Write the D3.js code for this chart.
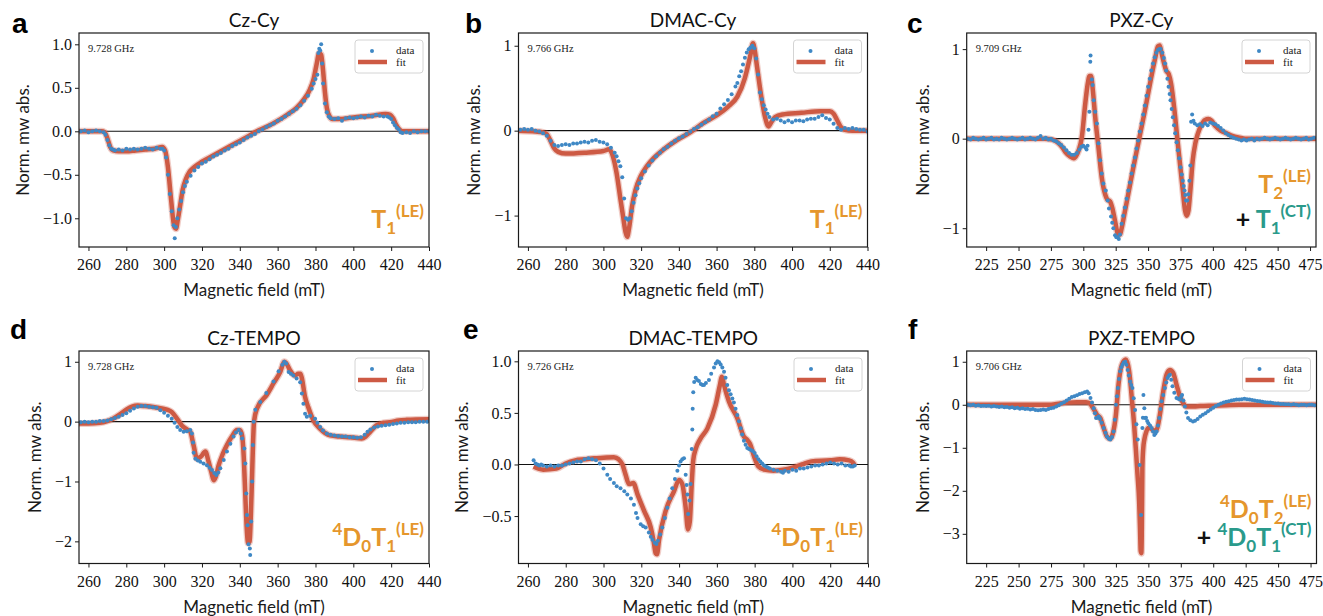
<!DOCTYPE html>
<html lang="en">
<head>
<meta charset="UTF-8">
<title>EPR spectra with fits</title>
<style>
  body { margin: 0; background: #fff; }
  svg { display: block; }
  .tick text { font-family: "Liberation Serif", serif; font-size: 16px; fill: #111; }
  .domain, .tick line { stroke: #1a1a1a; }
  .title { font-family: Lato, sans-serif; font-size: 19px; fill: #111; }
  .axlabel { font-family: Lato, sans-serif; font-size: 17px; fill: #1a1a1a; }
  .letter { font-family: "Liberation Sans", Arial, sans-serif; font-weight: bold; font-size: 28px; fill: #000; }
  .freq { font-family: "Liberation Serif", serif; font-size: 10.5px; fill: #222; }
  .leg { font-family: "Liberation Serif", serif; font-size: 11px; fill: #222; }
  .state { font-family: Lato, sans-serif; font-weight: bold; }
</style>
</head>
<body>
<svg id="fig" width="1323" height="616"></svg>
<script src="https://cdn.jsdelivr.net/npm/d3@7"></script>
<script>
// ---- [field (mT), normalised mw absorption] ----
const czCyData = [[256,0.0],[258,0.01],[260,-0.01],[262,0.0],[264,0.01],[266,0.0],[268,-0.01],[269,-0.04],[270,-0.1],[271,-0.16],[272,-0.2],[273,-0.21],[274,-0.22],[276,-0.21],[278,-0.22],[280,-0.2],[282,-0.21],[284,-0.2],[286,-0.21],[288,-0.2],[290,-0.19],[292,-0.2],[294,-0.21],[296,-0.19],[298,-0.2],[299,-0.2],[300,-0.22],[301,-0.3],[302,-0.5],[303,-0.72],[304,-0.92],[305,-1.08],[305.6,-1.23],[306.2,-1.1],[307,-1.0],[308,-0.9],[309,-0.8],[310,-0.7],[311,-0.63],[312,-0.58],[314,-0.51],[316,-0.45],[318,-0.41],[320,-0.37],[322,-0.35],[324,-0.32],[326,-0.29],[328,-0.27],[330,-0.25],[332,-0.22],[334,-0.2],[336,-0.17],[338,-0.15],[340,-0.13],[342,-0.1],[344,-0.07],[346,-0.05],[348,-0.03],[350,0.0],[352,0.02],[354,0.05],[356,0.07],[358,0.09],[360,0.12],[362,0.14],[364,0.17],[366,0.2],[368,0.23],[370,0.26],[372,0.3],[374,0.35],[376,0.41],[378,0.49],[379,0.55],[380,0.6],[381,0.65],[381.5,0.9],[382,0.95],[382.5,0.93],[383,1.0],[383.5,0.78],[384,0.55],[385,0.32],[386,0.22],[387,0.17],[388,0.15],[390,0.14],[392,0.15],[394,0.12],[396,0.15],[398,0.16],[400,0.15],[402,0.16],[404,0.17],[406,0.16],[408,0.18],[410,0.17],[412,0.19],[414,0.18],[416,0.17],[418,0.17],[419,0.16],[420,0.14],[421,0.1],[422,0.07],[423,0.04],[424,0.02],[425,-0.01],[426,-0.02],[428,-0.01],[430,-0.02],[432,0.0],[434,-0.01],[436,0.0],[438,0.0],[440,0.0]];
const czCyFit = [[255,0],[262,0],[267,0],[268.5,-0.01],[270,-0.08],[271.5,-0.18],[273,-0.22],[276,-0.23],[280,-0.23],[285,-0.22],[290,-0.21],[295,-0.2],[299,-0.18],[300.5,-0.22],[302,-0.41],[303.7,-0.79],[305.4,-1.1],[306.3,-1.12],[307.2,-1.02],[308.5,-0.85],[309.8,-0.67],[311.5,-0.55],[313.3,-0.47],[316,-0.41],[320,-0.35],[325,-0.29],[330,-0.23],[335,-0.17],[340,-0.11],[345,-0.05],[349,0],[355,0.06],[360,0.12],[365,0.19],[370,0.27],[374,0.37],[377,0.48],[379,0.6],[380.5,0.76],[382,0.9],[383,0.88],[384,0.7],[385,0.45],[386,0.27],[387.5,0.17],[389,0.14],[392,0.14],[400,0.16],[410,0.18],[417,0.2],[419.5,0.19],[421,0.15],[422.5,0.08],[424,0.03],[426,0],[440,0]];

const dmacCyData = [[256,0.01],[258,0.02],[260,0.01],[262,0.02],[264,0.0],[266,-0.01],[268,-0.03],[270,-0.06],[272,-0.12],[274,-0.17],[276,-0.18],[278,-0.17],[280,-0.16],[282,-0.17],[284,-0.15],[286,-0.15],[288,-0.14],[290,-0.13],[292,-0.14],[294,-0.12],[296,-0.11],[298,-0.13],[300,-0.14],[302,-0.16],[304,-0.2],[306,-0.26],[307,-0.3],[308,-0.36],[309,-0.42],[310,-0.55],[311,-0.8],[312,-1.03],[313,-1.05],[314,-1.03],[315,-0.95],[316,-0.85],[317,-0.76],[318,-0.68],[319,-0.62],[320,-0.56],[322,-0.48],[324,-0.41],[326,-0.35],[328,-0.3],[330,-0.26],[332,-0.22],[334,-0.19],[336,-0.15],[338,-0.12],[340,-0.09],[342,-0.07],[344,-0.04],[346,-0.01],[348,0.02],[350,0.04],[352,0.07],[354,0.1],[356,0.13],[358,0.17],[360,0.2],[362,0.26],[364,0.31],[366,0.36],[368,0.43],[370,0.52],[371,0.56],[372,0.64],[373,0.7],[374,0.78],[375,0.86],[376,0.92],[377,0.96],[378,0.98],[379,1.0],[380,0.97],[381,0.85],[382,0.66],[383,0.45],[384,0.37],[385,0.3],[386,0.25],[387,0.2],[388,0.16],[390,0.13],[392,0.14],[394,0.12],[396,0.1],[398,0.12],[400,0.1],[402,0.12],[404,0.12],[406,0.11],[408,0.13],[410,0.14],[412,0.14],[414,0.16],[416,0.18],[418,0.15],[420,0.13],[422,0.08],[424,0.03],[426,0.01],[428,0.03],[430,0.02],[432,0.03],[434,0.02],[436,0.01],[438,0.01],[440,-0.01]];
const dmacCyFit = [[255,0],[264,-0.01],[268,-0.02],[270,-0.04],[272,-0.12],[274,-0.21],[276,-0.25],[280,-0.27],[290,-0.26],[300,-0.24],[303,-0.22],[305,-0.3],[307,-0.5],[309,-0.8],[310.5,-1.02],[311.8,-1.2],[312.6,-1.25],[313.6,-1.15],[315.2,-0.89],[317,-0.7],[319.7,-0.54],[323,-0.42],[326.8,-0.32],[332,-0.22],[339,-0.11],[346,-0.02],[353,0.09],[360,0.18],[366,0.28],[371,0.4],[375,0.62],[377.8,0.875],[379.3,1.03],[380.2,0.95],[381.4,0.76],[384,0.36],[385.8,0.15],[387.5,0.05],[389,0.1],[391,0.16],[395,0.19],[405,0.21],[415,0.23],[420,0.23],[422,0.2],[424,0.12],[426,0.04],[428,0.01],[432,0],[440,0]];

const pxzCyData = [[211,0.0],[213,-0.01],[215,0.01],[217,0.0],[219,-0.01],[221,0.0],[223,0.01],[225,-0.01],[227,0.0],[229,0.01],[231,-0.01],[233,0.0],[235,-0.01],[237,0.01],[239,0.0],[241,-0.01],[243,0.0],[245,0.01],[247,0.0],[249,-0.01],[251,0.0],[253,0.01],[255,-0.01],[257,0.0],[259,0.01],[261,0.0],[263,-0.01],[265,0.01],[267,0.03],[269,0.0],[271,0.01],[273,-0.01],[275,0.0],[277,-0.02],[279,-0.03],[281,-0.05],[283,-0.07],[285,-0.1],[287,-0.13],[289,-0.16],[291,-0.18],[293,-0.18],[295,-0.16],[297,-0.12],[298.5,-0.09],[300,-0.08],[301.5,-0.1],[302.5,-0.12],[303.3,-0.08],[304,0.1],[304.7,0.3],[305.4,0.86],[305.6,0.93],[306.6,0.66],[307.2,0.6],[308,0.43],[309.2,0.3],[310.5,0.17],[311.7,-0.05],[313,-0.24],[314.2,-0.39],[315.5,-0.5],[317.3,-0.58],[318.8,-0.69],[319.8,-0.78],[321.4,-0.87],[322.3,-0.94],[323.2,-1.0],[324.5,-1.08],[325.5,-1.1],[326.5,-1.1],[327.4,-1.12],[328.3,-1.07],[329.6,-0.95],[330.8,-0.86],[332.1,-0.77],[333.4,-0.67],[334.7,-0.58],[336,-0.49],[337.2,-0.39],[338.5,-0.3],[339.8,-0.21],[341,-0.11],[342.3,-0.02],[343.6,0.08],[344.9,0.17],[346.2,0.27],[347.5,0.37],[348.8,0.48],[350,0.58],[351.3,0.67],[352.5,0.76],[353.8,0.84],[355.1,0.91],[356.4,0.96],[357.6,0.99],[358.7,1.0],[359.7,1.0],[361,0.96],[362.2,0.9],[363.1,0.84],[364,0.76],[364.9,0.67],[365.8,0.58],[366.6,0.5],[367.3,0.43],[368.2,0.33],[369.1,0.24],[370,0.15],[370.9,0.06],[372,-0.04],[373,-0.13],[374,-0.22],[375,-0.32],[376,-0.4],[376.8,-0.47],[377.5,-0.53],[378.1,-0.58],[378.7,-0.63],[379.3,-0.69],[380.2,-0.69],[381,-0.62],[381.9,-0.47],[382.6,-0.3],[383.2,0.19],[384,0.27],[385,0.2],[386,0.17],[388,0.15],[390,0.16],[392,0.14],[394,0.17],[396,0.15],[398,0.18],[400,0.17],[402,0.16],[404,0.14],[406,0.12],[408,0.09],[410,0.06],[412,0.04],[414,0.02],[416,0.01],[418,0.0],[420,-0.01],[422,-0.02],[424,-0.01],[426,-0.02],[428,-0.01],[430,0.0],[432,-0.02],[434,0.0],[436,-0.01],[438,0.0],[440,0.01],[442,0.0],[444,-0.01],[446,0.0],[448,0.01],[450,0.0],[452,-0.01],[454,0.0],[456,0.01],[458,0.0],[460,-0.01],[462,0.0],[464,0.01],[466,0.0],[468,-0.01],[470,0.0],[472,0.01],[474,-0.01],[476,0.0],[478,0.01]];
const pxzCyFit = [[210,0],[250,0],[270,0],[276,-0.01],[280,-0.04],[284,-0.1],[286.2,-0.15],[290,-0.2],[292.6,-0.22],[295,-0.18],[296.4,-0.13],[298.9,0.02],[301.5,0.39],[303.5,0.62],[304.8,0.7],[306,0.7],[307.3,0.55],[309.2,0.24],[311.7,-0.1],[314.2,-0.43],[316.8,-0.62],[318.5,-0.68],[320.6,-0.7],[322.5,-0.78],[324.5,-0.92],[327,-1.07],[328.3,-1.07],[329.6,-1.0],[332,-0.82],[334.7,-0.62],[338.5,-0.33],[342.3,-0.06],[347.5,0.31],[352.5,0.69],[355.5,0.9],[357.6,1.03],[359,1.04],[360.2,0.97],[362,0.86],[364,0.76],[366,0.72],[367.8,0.61],[370.4,0.31],[373,-0.06],[376.8,-0.58],[378.5,-0.8],[379.8,-0.86],[381.2,-0.8],[382.5,-0.6],[384.4,-0.25],[386.5,-0.05],[388.3,0.05],[391,0.15],[394,0.21],[396.5,0.22],[399,0.2],[402,0.14],[406,0.09],[410.6,0.06],[415,0.03],[420.8,0.01],[425,0],[480,0]];

const czTempoData = [[256,-0.01],[258,0.0],[260,-0.01],[262,0.0],[264,0.0],[266,0.01],[268,0.01],[270,0.02],[272,0.04],[274,0.06],[276,0.08],[278,0.11],[280,0.14],[282,0.18],[284,0.22],[286,0.25],[288,0.26],[290,0.26],[292,0.25],[294,0.24],[296,0.23],[298,0.19],[300,0.15],[302,0.1],[304,0.05],[305.5,-0.02],[307,-0.09],[308.5,-0.14],[310.3,-0.17],[312,-0.16],[313.8,-0.14],[314.7,-0.2],[315.3,-0.35],[315.6,-0.52],[316.5,-0.62],[317.8,-0.65],[319.1,-0.67],[320.8,-0.7],[322.6,-0.73],[324,-0.77],[325.3,-0.81],[326.5,-0.86],[327.6,-0.89],[328.6,-0.85],[329.7,-0.78],[331.5,-0.64],[333.2,-0.5],[335,-0.37],[336.7,-0.25],[338,-0.18],[339.4,-0.14],[340.5,-0.2],[341.2,-0.28],[342.4,-0.45],[342.9,-0.7],[343.4,-1.2],[343.8,-1.56],[344.1,-1.73],[344.6,-2.05],[345.3,-2.12],[345.5,-2.23],[346,-1.67],[346.5,-1.0],[346.9,-0.39],[347.3,0.0],[348.2,0.2],[350.8,0.33],[354,0.48],[357.8,0.67],[360.5,0.84],[362.5,0.95],[363.5,1.0],[364.5,0.97],[365.8,0.83],[367,0.8],[368.3,0.77],[370,0.72],[371.9,0.66],[372.8,0.47],[373.6,0.3],[374.5,0.13],[375.4,0.08],[377.2,0.1],[379.8,0.05],[381,-0.02],[382.5,-0.09],[384,-0.15],[386,-0.2],[388,-0.22],[390,-0.23],[392,-0.24],[394,-0.25],[396,-0.25],[398,-0.26],[400,-0.26],[402,-0.27],[404,-0.26],[406,-0.22],[407.5,-0.17],[409,-0.13],[411,-0.1],[413,-0.08],[415,-0.07],[417,-0.06],[419,-0.05],[421,-0.04],[423,-0.03],[425,-0.02],[427,-0.02],[429,-0.01],[431,-0.01],[433,-0.01],[435,0.0],[437,0.0],[439,0.0]];
const czTempoFit = [[255,-0.03],[260,-0.03],[266,-0.02],[270,0.01],[273,0.05],[277,0.13],[280,0.2],[283,0.25],[286,0.27],[290,0.26],[295,0.24],[301.5,0.2],[304,0.16],[306.8,0.05],[309.5,-0.07],[312,-0.13],[313.8,-0.17],[315.6,-0.4],[317.4,-0.62],[319.5,-0.58],[321.8,-0.5],[323.5,-0.67],[325,-0.85],[326.2,-0.98],[327.3,-0.92],[328.8,-0.73],[331,-0.54],[333.2,-0.39],[336,-0.24],[338.5,-0.14],[340,-0.14],[341.2,-0.23],[342.1,-0.6],[342.9,-1.23],[343.6,-1.75],[344.4,-2.03],[345.2,-2.0],[345.8,-1.6],[346.4,-1.0],[347,-0.35],[347.5,0.0],[349.1,0.22],[354.3,0.45],[358,0.65],[361.4,0.83],[363.5,1.0],[364.5,0.98],[366.5,0.86],[369.2,0.77],[370.9,0.8],[372,0.8],[372.7,0.74],[374.5,0.41],[376.2,0.24],[378.9,0.02],[382.5,-0.12],[387.7,-0.23],[393,-0.25],[398.3,-0.26],[404.5,-0.28],[406.5,-0.25],[408.9,-0.17],[412.4,-0.06],[416,-0.02],[419.4,-0.01],[424,0.02],[428.2,0.03],[440,0.04]];

const dmacTempoData = [[263,0.04],[264,0.01],[265,0.0],[266,-0.01],[267,0.0],[268,-0.01],[270,-0.02],[272,-0.01],[274,-0.02],[276,-0.01],[278,-0.01],[280,0.0],[282,0.01],[284,0.02],[286,0.03],[288,0.03],[290,0.05],[292,0.06],[294,0.05],[296,0.04],[298,0.01],[300,-0.04],[302,-0.1],[303.5,-0.14],[305.5,-0.18],[307,-0.21],[309,-0.23],[311,-0.26],[312.6,-0.29],[314.5,-0.33],[316.1,-0.39],[317.2,-0.47],[318,-0.52],[319.7,-0.58],[321,-0.6],[322.3,-0.61],[324,-0.66],[325,-0.7],[325.9,-0.73],[327.1,-0.76],[328,-0.77],[328.8,-0.74],[330,-0.68],[331.1,-0.61],[332.5,-0.52],[333.8,-0.42],[335,-0.33],[336.4,-0.23],[337.8,-0.14],[339.1,-0.06],[340,-0.01],[340.8,0.03],[341.7,0.05],[342.6,0.06],[343.5,-0.1],[344,-0.2],[344.4,-0.29],[344.8,-0.48],[345.5,-0.35],[346.1,-0.19],[346.7,0.15],[347,0.34],[347.2,0.54],[347.5,0.7],[348,0.8],[348.8,0.84],[349.6,0.82],[350.5,0.81],[351.5,0.78],[352.4,0.77],[353.2,0.77],[354.2,0.79],[355.8,0.82],[357,0.88],[358.5,0.94],[359.4,0.98],[360.3,1.0],[361.2,0.99],[362,0.97],[362.9,0.94],[363.8,0.9],[364.6,0.84],[365.5,0.77],[366.4,0.72],[367.3,0.68],[368.2,0.64],[369,0.6],[369.9,0.54],[370.8,0.48],[371.7,0.42],[372.6,0.35],[373.4,0.29],[374.3,0.23],[375.2,0.19],[376.1,0.16],[377,0.15],[378,0.14],[379,0.13],[380,0.11],[381,0.08],[382,0.05],[383,0.03],[384,0.01],[385,-0.01],[386,-0.02],[387,-0.03],[388,-0.04],[390,-0.05],[392,-0.06],[394,-0.07],[395,-0.08],[396,-0.06],[398,-0.07],[400,-0.05],[402,-0.06],[404,-0.04],[406,-0.04],[408,-0.03],[410,-0.02],[412,-0.01],[414,-0.01],[416,0.0],[418,0.01],[420,0.02],[422,0.01],[424,0.0],[426,0.01],[428,-0.01],[430,-0.01],[431,-0.02],[432,-0.02],[433,-0.01]];
const dmacTempoFit = [[263,-0.02],[268,-0.05],[275,-0.04],[280,0.01],[285,0.04],[290,0.05],[295,0.06],[300,0.065],[305.5,0.07],[308,0.05],[310,0.0],[311.7,-0.1],[313.5,-0.19],[315.8,-0.18],[318,-0.29],[321.5,-0.45],[325,-0.61],[326.5,-0.74],[327.6,-0.86],[328.3,-0.87],[329.4,-0.73],[332.9,-0.45],[337.3,-0.26],[340,-0.15],[341.7,-0.19],[343.5,-0.42],[344.7,-0.63],[345.7,-0.55],[346.7,-0.19],[347.5,0.04],[348.8,0.15],[351,0.24],[355,0.35],[359.4,0.58],[361.5,0.76],[362.7,0.85],[363.8,0.77],[366.4,0.61],[370.8,0.45],[374.3,0.27],[376,0.24],[377.5,0.2],[380,0.06],[382,-0.02],[385,-0.05],[390,-0.06],[395,-0.05],[400,-0.03],[405,0.0],[410,0.03],[420,0.04],[425,0.05],[430,0.04],[432,0.02],[433,-0.01]];

const pxzTempoData = [[211,0.0],[213,-0.01],[215,0.0],[217,-0.02],[219,-0.01],[221,-0.03],[223,-0.02],[225,-0.03],[227,-0.02],[229,-0.04],[231,-0.03],[233,-0.04],[235,-0.05],[237,-0.04],[239,-0.06],[241,-0.05],[243,-0.07],[245,-0.06],[247,-0.08],[249,-0.07],[251,-0.09],[253,-0.08],[255,-0.1],[257,-0.09],[259,-0.11],[261,-0.1],[263,-0.12],[265,-0.13],[267,-0.12],[269,-0.11],[271,-0.12],[273,-0.1],[275,-0.08],[277,-0.07],[279,-0.04],[281,-0.01],[283,0.03],[285,0.06],[287,0.1],[289,0.14],[291,0.18],[293,0.2],[295,0.22],[297,0.25],[299,0.27],[301,0.29],[302.8,0.31],[304,0.27],[305.4,0.16],[306.6,0.05],[307.9,-0.08],[308.8,-0.2],[309.7,-0.31],[310.7,-0.3],[311.7,-0.27],[312.8,-0.33],[314,-0.42],[315.6,-0.54],[317,-0.65],[318.1,-0.74],[319.5,-0.79],[320.7,-0.81],[322,-0.75],[323.2,-0.62],[324.1,-0.35],[325,0.0],[325.8,0.2],[326.5,0.39],[327.4,0.6],[328.3,0.78],[329.2,0.87],[330.1,0.93],[331.1,0.98],[332.2,1.0],[333.1,0.93],[334.1,0.81],[335,0.68],[335.9,0.54],[336.8,0.46],[337.7,0.39],[338.7,0.15],[339.8,-0.12],[340.8,-0.45],[341.8,-0.81],[343.3,-1.4],[344.4,-2.56],[345.4,-0.54],[345.8,-0.3],[346.2,0.23],[346.9,-0.08],[347.4,-0.31],[348.2,-0.3],[349.1,-0.38],[350,-0.43],[351.3,-0.48],[352.5,-0.54],[353.6,-0.62],[354.6,-0.7],[355.5,-0.67],[356.4,-0.62],[357.4,-0.48],[358.4,-0.31],[359.3,-0.1],[360.2,0.08],[361.5,0.23],[362.8,0.39],[363.8,0.52],[364.8,0.62],[365.7,0.67],[366.6,0.7],[367.6,0.58],[368.6,0.43],[370,0.28],[371.7,0.16],[373,0.14],[374.3,0.12],[375.2,0.18],[376,0.23],[377,0.1],[378.1,-0.04],[379.3,-0.18],[380.6,-0.31],[382.4,-0.36],[384.4,-0.39],[386,-0.37],[388,-0.33],[390,-0.27],[392,-0.23],[394,-0.2],[396,-0.15],[398,-0.11],[400,-0.07],[402,-0.03],[404,0.0],[406,0.03],[408,0.05],[410,0.07],[412,0.08],[414,0.1],[416,0.11],[418,0.12],[420,0.12],[422,0.13],[424,0.14],[426,0.13],[428,0.12],[430,0.11],[432,0.1],[434,0.09],[436,0.08],[438,0.07],[440,0.06],[442,0.05],[444,0.05],[446,0.04],[448,0.03],[450,0.03],[452,0.02],[454,0.02],[456,0.01],[458,0.01],[460,0.0],[462,0.01],[464,0.0],[466,-0.01],[468,0.0],[470,0.0],[472,-0.01],[474,0.0],[476,0.0],[478,-0.01]];
const pxzTempoFit = [[210,0],[240,0],[260,0],[275,0],[282,0.03],[288,0.05],[295,0.06],[302,0.06],[305,0.03],[306.6,-0.04],[308.5,-0.13],[310.4,-0.23],[313,-0.31],[315.6,-0.54],[318.1,-0.74],[320.7,-0.79],[322.7,-0.66],[325,-0.23],[327,0.47],[329.6,0.93],[332.6,1.05],[335.2,0.78],[337.7,0.0],[339,-0.45],[340.3,-1.0],[341.6,-1.6],[342.9,-2.25],[343.6,-2.9],[344.1,-3.4],[344.6,-3.45],[344.9,-3.1],[345.4,-1.47],[346.1,-1.0],[346.9,-0.81],[348.5,-0.62],[350,-0.54],[352,-0.55],[353.8,-0.6],[356.4,-0.58],[358.9,-0.23],[361.5,0.31],[364,0.7],[366.6,0.81],[369.1,0.74],[371.7,0.47],[374.3,0.2],[376.8,0.04],[379.3,-0.04],[385,-0.04],[390,-0.03],[400,-0.02],[410,-0.01],[420,0],[480,0]];

// tick values
const xTicksNarrow = [260, 280, 300, 320, 340, 360, 380, 400, 420, 440];
const xTicksWide = [225, 250, 275, 300, 325, 350, 375, 400, 425, 450, 475];
const yTicksA = [-1.0, -0.5, 0.0, 0.5, 1.0];
const yTicksB = [-1, 0, 1];
const yTicksC = [-1, 0, 1];
const yTicksD = [-2, -1, 0, 1];
const yTicksE = [-0.5, 0.0, 0.5, 1.0];
const yTicksF = [-3, -2, -1, 0, 1];

const titles = ["Cz-Cy", "DMAC-Cy", "PXZ-Cy", "Cz-TEMPO", "DMAC-TEMPO", "PXZ-TEMPO"];
const freqs = ["9.728 GHz", "9.766 GHz", "9.709 GHz", "9.728 GHz", "9.726 GHz", "9.706 GHz"];

const ORANGE = "#e5962c", TEAL = "#2a9a8b", BLUE = "#3f88c5", RED = "#cd5a44";

// state labels: lines of [text, kind, colour]
const T1LE = [["T", "n", ORANGE], ["1", "sub", ORANGE], ["(LE)", "sup", ORANGE]];
const D0T1LE = [["4", "sup", ORANGE], ["D", "n", ORANGE], ["0", "sub", ORANGE], ["T", "n", ORANGE], ["1", "sub", ORANGE], ["(LE)", "sup", ORANGE]];

// layout of the six axes
const panels = [
  { letter: "a", lx: 12, data: czCyData, fit: czCyFit, box: [79, 429, 33, 247], xd: [255, 440], yd: [-1.33, 1.13], xt: xTicksNarrow, yt: yTicksA, yf: ".1f",
    lines: [{ dy: 19, parts: T1LE }] },
  { letter: "b", lx: 465, data: dmacCyData, fit: dmacCyFit, box: [518.5, 867.5, 33, 247], xd: [255, 440], yd: [-1.37, 1.15], xt: xTicksNarrow, yt: yTicksB, yf: "d",
    lines: [{ dy: 19, parts: T1LE }] },
  { letter: "c", lx: 907, data: pxzCyData, fit: pxzCyFit, box: [966.7, 1316, 33, 247], xd: [210, 479.6], yd: [-1.21, 1.18], xt: xTicksWide, yt: yTicksC, yf: "d",
    lines: [{ dy: 54, parts: [["T", "n", ORANGE], ["2", "sub", ORANGE], ["(LE)", "sup", ORANGE]] },
            { dy: 19, parts: [["+ ", "n", "#111"], ["T", "n", TEAL], ["1", "sub", TEAL], ["(CT)", "sup", TEAL]] }] },
  { letter: "d", lx: 10, data: czTempoData, fit: czTempoFit, box: [79, 429, 351, 563.5], xd: [255, 440], yd: [-2.37, 1.18], xt: xTicksNarrow, yt: yTicksD, yf: "d",
    lines: [{ dy: 17.5, parts: D0T1LE }] },
  { letter: "e", lx: 463, data: dmacTempoData, fit: dmacTempoFit, box: [518.5, 868, 351, 563.5], xd: [255, 440], yd: [-0.96, 1.1], xt: xTicksNarrow, yt: yTicksE, yf: ".1f",
    lines: [{ dy: 17.5, parts: D0T1LE }] },
  { letter: "f", lx: 908, data: pxzTempoData, fit: pxzTempoFit, box: [966.7, 1316.5, 351, 563.5], xd: [210, 479.6], yd: [-3.69, 1.25], xt: xTicksWide, yt: yTicksF, yf: "d",
    lines: [{ dy: 45.5, parts: [["4", "sup", ORANGE], ["D", "n", ORANGE], ["0", "sub", ORANGE], ["T", "n", ORANGE], ["2", "sub", ORANGE], ["(LE)", "sup", ORANGE]] },
            { dy: 17.5, parts: [["+ ", "n", "#111"], ["4", "sup", TEAL], ["D", "n", TEAL], ["0", "sub", TEAL], ["T", "n", TEAL], ["1", "sub", TEAL], ["(CT)", "sup", TEAL]] }] }
];

const svg = d3.select("#fig");

function drawState(g, x, y, parts) {
  const t = g.append("text").attr("class", "state").attr("x", x).attr("y", y).attr("text-anchor", "end");
  let shift = 0;
  parts.forEach(([s, kind, col]) => {
    const target = kind === "sub" ? 6 : kind === "sup" ? -11 : 0;
    t.append("tspan")
      .attr("dy", target - shift)
      .attr("fill", col)
      .style("font-size", kind === "n" ? "25px" : "17px")
      .text(s);
    shift = target;
  });
}

panels.forEach((p, i) => {
  const [x0, x1, y0, y1] = p.box;
  const x = d3.scaleLinear().domain(p.xd).range([x0, x1]);
  const y = d3.scaleLinear().domain(p.yd).range([y1, y0]);
  const g = svg.append("g");

  g.append("clipPath").attr("id", "clip" + i)
    .append("rect").attr("x", x0).attr("y", y0).attr("width", x1 - x0).attr("height", y1 - y0);

  const plot = g.append("g").attr("clip-path", `url(#clip${i})`);

  // zero line
  plot.append("line")
    .attr("x1", x0).attr("x2", x1).attr("y1", y(0)).attr("y2", y(0))
    .attr("stroke", "#111").attr("stroke-width", 1.1);

  // fit
  const line = d3.line().x(d => x(d[0])).y(d => y(d[1])).curve(d3.curveMonotoneX);
  plot.append("path").datum(p.fit).attr("d", line)
    .attr("fill", "none").attr("stroke", RED).attr("stroke-opacity", 0.3)
    .attr("stroke-width", 7).attr("stroke-linejoin", "round");
  plot.append("path").datum(p.fit).attr("d", line)
    .attr("fill", "none").attr("stroke", RED)
    .attr("stroke-width", 4.5).attr("stroke-linejoin", "round");

  // data points
  plot.selectAll("circle").data(p.data).enter().append("circle")
    .attr("cx", d => x(d[0])).attr("cy", d => y(d[1])).attr("r", 2)
    .attr("fill", BLUE);

  // frame
  g.append("rect").attr("x", x0).attr("y", y0).attr("width", x1 - x0).attr("height", y1 - y0)
    .attr("fill", "none").attr("stroke", "#1a1a1a").attr("stroke-width", 1.2);

  // axes
  g.append("g").attr("transform", `translate(0,${y1})`)
    .call(d3.axisBottom(x).tickValues(p.xt).tickSize(4).tickPadding(8).tickFormat(d3.format("d")))
    .call(a => a.select(".domain").remove());
  const ya = g.append("g").attr("transform", `translate(${x0},0)`)
    .call(d3.axisLeft(y).tickValues(p.yt).tickSize(4).tickPadding(3).tickFormat(d3.format(p.yf)))
    .call(a => a.select(".domain").remove());

  // y label sits left of the widest tick label (bbox is in the axis group's own coordinates)
  const bb = ya.node().getBBox();
  g.append("text").attr("class", "axlabel")
    .attr("transform", `translate(${x0 + bb.x - 14},${(y0 + y1) / 2}) rotate(-90)`)
    .attr("text-anchor", "middle").text("Norm. mw abs.");
  g.append("text").attr("class", "axlabel")
    .attr("x", (x0 + x1) / 2).attr("y", y1 + 49)
    .attr("text-anchor", "middle").text("Magnetic field (mT)");

  // title and panel letter
  g.append("text").attr("class", "title")
    .attr("x", (x0 + x1) / 2).attr("y", y0 - 6)
    .attr("text-anchor", "middle").text(titles[i]);
  g.append("text").attr("class", "letter").attr("x", p.lx).attr("y", y0 - 0.5 - (i >= 3 ? 12 : 0)).text(p.letter);

  // frequency
  g.append("text").attr("class", "freq").attr("x", x0 + 9).attr("y", y0 + 19).text(freqs[i]);

  // legend
  const lg = g.append("g");
  lg.append("rect").attr("x", x1 - 74).attr("y", y0 + 7).attr("width", 68).attr("height", 33)
    .attr("rx", 3).attr("fill", "#fff").attr("fill-opacity", 0.85).attr("stroke", "#d4d4d4");
  lg.append("circle").attr("cx", x1 - 57).attr("cy", y0 + 18).attr("r", 2).attr("fill", BLUE);
  lg.append("line").attr("x1", x1 - 71).attr("x2", x1 - 42).attr("y1", y0 + 29).attr("y2", y0 + 29)
    .attr("stroke", RED).attr("stroke-width", 4.5);
  lg.append("text").attr("class", "leg").attr("x", x1 - 33).attr("y", y0 + 21).text("data");
  lg.append("text").attr("class", "leg").attr("x", x1 - 33).attr("y", y0 + 33).text("fit");

  // state labels
  p.lines.forEach(l => drawState(g, x1 - 5, y1 - l.dy, l.parts));
});
</script>
</body>
</html>
